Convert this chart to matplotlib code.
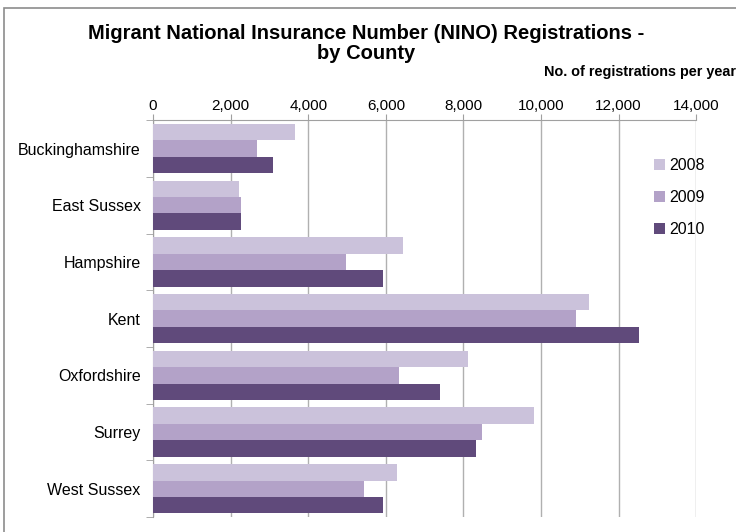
import numpy as np
import matplotlib.pyplot as plt
from matplotlib.patches import Rectangle

counties = ["Buckinghamshire", "East Sussex", "Hampshire", "Kent",
            "Oxfordshire", "Surrey", "West Sussex"]
years = ["2008", "2009", "2010"]
reg_2008 = [3660, 2210, 6440, 11240, 8110, 9830, 6280]
reg_2009 = [2680, 2260, 4970, 10910, 6350, 8470, 5430]
reg_2010 = [3090, 2260, 5930, 12520, 7390, 8320, 5920]
colors = ["#CBC2DB", "#B3A2C8", "#604A7B"]
xticks = [0, 2000, 4000, 6000, 8000, 10000, 12000, 14000]


def main():
    plt.rcParams['font.family'] = ['Liberation Sans', 'DejaVu Sans']
    fig = plt.figure(figsize=(7.36, 5.32), dpi=100)
    ax = fig.add_axes([0.208, 0.028, 0.738, 0.746])

    y = np.arange(len(counties))
    h = 0.29
    for i, vals in enumerate([reg_2008, reg_2009, reg_2010]):
        ax.barh(y + (i - 1) * h, vals, height=h, color=colors[i],
                label=years[i], zorder=3)

    ax.set_ylim(len(counties) - 0.5, -0.5)
    ax.set_xlim(0, 14000)
    ax.set_xticks(xticks)
    ax.set_xticklabels([f"{v:,}" for v in xticks], fontsize=11)
    ax.xaxis.tick_top()
    ax.tick_params(axis='x', length=4.5, color="#A0A0A0", pad=0.5)
    ax.set_yticks(y)
    ax.set_yticklabels(counties, fontsize=11.5)
    ax.tick_params(axis='y', length=0, pad=9)
    ax.set_yticks(np.arange(-0.5, len(counties)), minor=True)
    ax.tick_params(axis='y', which='minor', length=5, color="#A0A0A0")
    ax.grid(axis='x', color="#B0B0B0", linewidth=1, zorder=0)

    for side in ["right", "bottom"]:
        ax.spines[side].set_visible(False)
    for side in ["top", "left"]:
        ax.spines[side].set_color("#A0A0A0")

    ax.legend(loc="upper left", bbox_to_anchor=(0.895, 0.94), frameon=False,
              fontsize=11.5, handlelength=0.7, handleheight=0.7,
              handletextpad=0.3, labelspacing=1.05)

    fig.text(0.497, 0.918, "Migrant National Insurance Number (NINO) Registrations -\nby County",
             ha="center", va="center", fontsize=14.5, fontweight="bold",
             linespacing=1.1)
    fig.text(1.0, 0.864, "No. of registrations per year", ha="right",
             va="center", fontsize=10.4, fontweight="bold")

    fig.patches.append(Rectangle((0.006, -0.01), 1.0, 0.995,
                                 transform=fig.transFigure, fill=False,
                                 edgecolor="#8C8C8C", linewidth=1.2))

    plt.savefig("out.png", dpi=100)


if __name__ == "__main__":
    main()
